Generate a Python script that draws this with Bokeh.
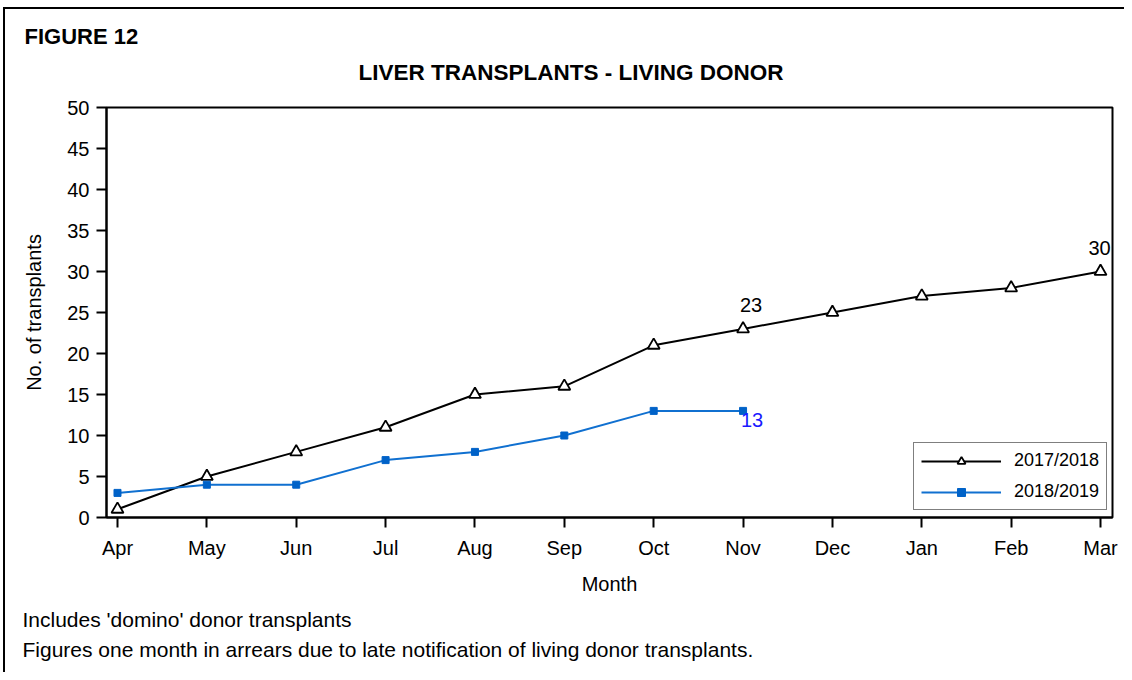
from bokeh.plotting import figure
from bokeh.models import (Range1d, FixedTicker, SingleIntervalTicker, LabelSet, Title,
                          ColumnDataSource, Legend, LegendItem)
from bokeh.core.properties import value
from bokeh.embed import file_html
from bokeh.resources import INLINE

# ---- data ----
months = ["Apr", "May", "Jun", "Jul", "Aug", "Sep", "Oct", "Nov", "Dec", "Jan", "Feb", "Mar"]
series_2017 = [1, 5, 8, 11, 15, 16, 21, 23, 25, 27, 28, 30]
series_2018 = [3, 4, 4, 7, 8, 10, 13, 13]
label_2017_months = ["Nov", "Mar"]
label_2018_months = ["Nov"]

FONT = "Liberation Sans"
BLACK = "#000000"
BLUE_LINE = "#1070D0"
BLUE_MARK = "#0062C8"
BLUE_TEXT = "#1A1AFF"

x17 = [months.index(m) for m in months[:len(series_2017)]]
x18 = [months.index(m) for m in months[:len(series_2018)]]

p = figure(width=1124, height=672, output_backend="svg", toolbar_location=None,
           x_range=Range1d(-0.123, 11.134), y_range=Range1d(0, 50),
           min_border_left=106, min_border_right=12, min_border_top=107, min_border_bottom=155)
p.title = None
# outer figure frame (left and top edges) drawn as the page element's background
p.border_fill_color = None
p.styles = {
    "background-color": "white",
    "background-image": "linear-gradient(#000, #000), linear-gradient(#000, #000)",
    "background-size": "2px 100%, 100% 2px",
    "background-position": "3px 7px, 3px 7px",
    "background-repeat": "no-repeat",
}

p.background_fill_color = "white"
p.outline_line_color = BLACK
p.outline_line_width = 2
p.xgrid.visible = False
p.ygrid.visible = False

# axes
p.xaxis.ticker = FixedTicker(ticks=list(range(len(months))))
p.xaxis.major_label_overrides = {i: m for i, m in enumerate(months)}
p.yaxis.ticker = SingleIntervalTicker(interval=5)
for ax in (p.xaxis, p.yaxis):
    ax.axis_line_color = BLACK
    ax.axis_line_width = 2
    ax.major_tick_line_color = BLACK
    ax.major_tick_line_width = 2
    ax.major_tick_in = 0
    ax.major_tick_out = 10
    ax.minor_tick_line_color = None
    ax.major_label_text_font = FONT
    ax.major_label_text_font_size = "20px"
    ax.major_label_text_color = BLACK
    ax.axis_label_text_font = FONT
    ax.axis_label_text_font_size = "20px"
    ax.axis_label_text_font_style = "normal"
    ax.axis_label_text_color = BLACK
p.xaxis.axis_label = "Month"
p.yaxis.axis_label = "No. of transplants"
p.xaxis.major_label_standoff = 9
p.yaxis.major_label_standoff = 7
p.xaxis.axis_label_standoff = 11
p.yaxis.axis_label_standoff = 19

# series
l17 = p.line(x17, series_2017, line_color=BLACK, line_width=2)
s17 = p.scatter(x17, series_2017, marker="triangle", size=12, fill_color="white",
                line_color=BLACK, line_width=1.8)
l18 = p.line(x18, series_2018, line_color=BLUE_LINE, line_width=2)
s18 = p.scatter(x18, series_2018, marker="square", size=7, fill_color=BLUE_MARK,
                line_color=BLUE_MARK)

# data labels (the last one is nudged so it stays inside the plot frame)
src17 = ColumnDataSource(dict(
    x=[months.index(m) for m in label_2017_months],
    y=[series_2017[months.index(m)] for m in label_2017_months],
    text=[str(series_2017[months.index(m)]) for m in label_2017_months],
    dx=[8, -1]))
src18 = ColumnDataSource(dict(
    x=[months.index(m) for m in label_2018_months],
    y=[series_2018[months.index(m)] for m in label_2018_months],
    text=[str(series_2018[months.index(m)]) for m in label_2018_months]))
p.add_layout(LabelSet(x="x", y="y", text="text", source=src17, x_offset="dx", y_offset=24,
                      text_align="center", text_baseline="middle", text_font=value(FONT),
                      text_font_size=value("20px"), text_color=BLACK))
p.add_layout(LabelSet(x="x", y="y", text="text", source=src18, x_offset=9, y_offset=-9,
                      text_align="center", text_baseline="middle", text_font=value(FONT),
                      text_font_size=value("20px"), text_color=BLUE_TEXT))

# legend
legend = Legend(items=[LegendItem(label="2017/2018", renderers=[l17, s17]),
                       LegendItem(label="2018/2019", renderers=[l18, s18])],
                location=(807, 7))
legend.border_line_color = BLACK
legend.border_line_width = 1.5
legend.background_fill_color = "white"
legend.background_fill_alpha = 1
legend.glyph_width = 80
legend.glyph_height = 20
legend.label_height = 20
legend.label_standoff = 13
legend.padding = 7
legend.spacing = 10
legend.margin = 0
legend.label_text_font = FONT
legend.label_text_font_size = "18px"
legend.label_text_color = BLACK
p.add_layout(legend, "center")

# titles (above, stacked outward) and notes (below the x axis)
p.add_layout(Title(text="LIVER TRANSPLANTS - LIVING DONOR", align="left", offset=252,
                   standoff=42, vertical_align="top", text_font=FONT,
                   text_font_size="22.5px", text_font_style="bold", text_color=BLACK), "above")
p.add_layout(Title(text="FIGURE 12", align="left", offset=-82, standoff=-20,
                   text_font=FONT, text_font_size="22px", text_font_style="bold",
                   text_color=BLACK), "above")
p.add_layout(Title(text="Includes 'domino' donor transplants", align="left", offset=-84,
                   standoff=17, text_font=FONT, text_font_size="21px",
                   text_font_style="normal", text_color=BLACK), "below")
p.add_layout(Title(text="Figures one month in arrears due to late notification of living donor transplants.",
                   align="left", offset=-84, standoff=-8, text_font=FONT,
                   text_font_size="21px", text_font_style="normal", text_color=BLACK), "below")

open("out.html", "w").write(file_html(p, INLINE))
